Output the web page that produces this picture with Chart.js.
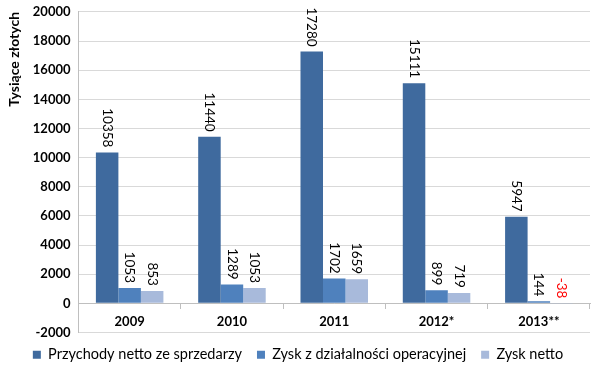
<!DOCTYPE html>
<html>
<head>
<meta charset="utf-8">
<script src="https://cdn.jsdelivr.net/npm/chart.js@4"></script>
<style>
  body { margin: 0; background: #fff; }
  #wrap { width: 600px; height: 373px; }
</style>
</head>
<body>
<div id="wrap"><canvas id="chart"></canvas></div>
<script>
const years = ["2009", "2010", "2011", "2012*", "2013**"];
const revenue = [10358, 11440, 17280, 15111, 5947];
const operatingProfit = [1053, 1289, 1702, 899, 144];
const netProfit = [853, 1053, 1659, 719, -38];
const seriesNames = ["Przychody netto ze sprzedarzy", "Zysk z działalności operacyjnej", "Zysk netto"];

const FONT = "Lato, 'Open Sans', sans-serif";

// value labels, rotated like in the spreadsheet
const barLabels = {
  id: "barLabels",
  afterDatasetsDraw(chart) {
    const ctx = chart.ctx;
    const y = chart.scales.y;
    ctx.save();
    ctx.font = "13.5px " + FONT;
    ctx.textBaseline = "middle";
    ctx.textAlign = "right";
    chart.data.datasets.forEach((ds, i) => {
      chart.getDatasetMeta(i).data.forEach((bar, j) => {
        const v = ds.data[j];
        const top = y.getPixelForValue(Math.max(v, 0));
        ctx.fillStyle = v < 0 ? "#ff0000" : "#000";
        ctx.save();
        ctx.translate(bar.x, top - 5);
        ctx.rotate(Math.PI / 2);
        ctx.fillText(String(v), 0, 0);
        ctx.restore();
      });
    });
    ctx.restore();
  }
};

new Chart(document.getElementById("chart"), {
  type: "bar",
  plugins: [barLabels],
  data: {
    labels: years,
    datasets: [
      { label: seriesNames[0], data: revenue, backgroundColor: "#3F6A9E" },
      { label: seriesNames[1], data: operatingProfit, backgroundColor: "#4F81BD" },
      { label: seriesNames[2], data: netProfit, backgroundColor: "#A8BADB" }
    ]
  },
  options: {
    responsive: true,
    maintainAspectRatio: false,
    animation: false,
    layout: { padding: { top: 4, right: 10, left: 6, bottom: 1 } },
    datasets: { bar: { categoryPercentage: 0.66, barPercentage: 1 } },
    plugins: {
      tooltip: { enabled: false },
      legend: {
        position: "bottom",
        labels: {
          boxWidth: 8, boxHeight: 8, padding: 15,
          color: "#000",
          font: { family: FONT, size: 14.5 }
        }
      }
    },
    scales: {
      x: {
        position: { y: 0 },
        grid: { drawOnChartArea: false, color: "#bfbfbf", tickLength: 5 },
        border: { color: "#bfbfbf" },
        ticks: { color: "#000", padding: 6, font: { family: FONT, size: 13, weight: "bold" } }
      },
      y: {
        min: -2000, max: 20000,
        ticks: {
          stepSize: 2000, color: "#000", padding: 8,
          font: { family: FONT, size: 13, weight: "bold", lineHeight: 0.6 },
          callback: v => String(v)
        },
        grid: { color: "#d9d9d9", drawTicks: false },
        border: { color: "#bfbfbf" },
        title: {
          display: true, text: "Tysiące złotych", align: "end", color: "#000",
          padding: { top: 0, bottom: 2 },
          font: { family: FONT, size: 14, weight: "bold" }
        }
      }
    }
  }
});
</script>
</body>
</html>
